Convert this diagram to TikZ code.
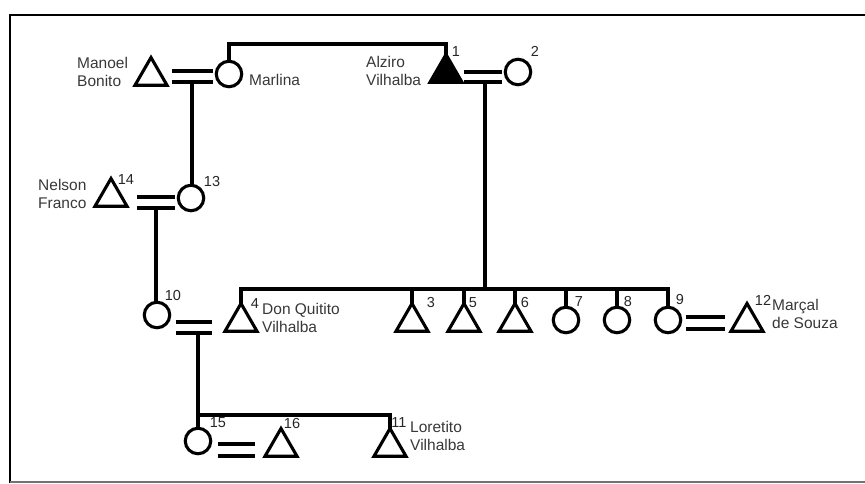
\documentclass[tikz,border=0pt]{standalone}
\usepackage{fontspec}
\setmainfont{Liberation Sans}
\usetikzlibrary{shapes.geometric,calc}
\begin{document}
\begin{tikzpicture}[x=1pt,y=-1pt,
  male/.style={regular polygon, regular polygon sides=3, draw, line width=3.1pt, minimum size=37pt, inner sep=0pt, outer sep=0pt},
  female/.style={circle, draw, line width=3.1pt, minimum size=25.5pt, inner sep=0pt, outer sep=0pt},
  num/.style={font=\fontsize{14.5}{16}\selectfont, inner sep=0pt, text=black!85},
  pname/.style={font=\fontsize{15.5}{18.5}\selectfont, align=left, inner sep=0pt, text=black!78},
  link/.style={line width=3.1pt},
  frame/.style={line width=2.6pt},
]
\useasboundingbox (0,0) rectangle (865,483);
% frame
\draw[frame] (865,15) -- (10,15) -- (10,483);
\draw[line width=1.2pt, black!55] (10,482) -- (865,482);

% persons
\node[male] (manoel) at (151,76) {};
\node[female] (marlina) at (229,74) {};
\node[male, fill=black] (alziro) at (446,73) {};
\node[female] (n2) at (518,72) {};
\node[male] (nelson) at (111,197) {};
\node[female] (n13) at (191,198) {};
\node[female] (n10) at (157,315) {};
\node[male] (n4) at (241,322) {};
\node[male] (n3) at (412,322) {};
\node[male] (n5) at (464,322) {};
\node[male] (n6) at (515,322) {};
\node[female] (n7) at (566,320) {};
\node[female] (n8) at (617,320) {};
\node[female] (n9) at (668,320) {};
\node[male] (n12) at (747,322) {};
\node[female] (n15) at (198,441) {};
\node[male] (n16) at (281,447) {};
\node[male] (n11) at (390,447) {};

% helper coordinates
\coordinate (top) at (229,44);
\coordinate (u1) at (192,82);
\coordinate (u2) at (485,82);
\coordinate (sib) at (485,289);
\coordinate (u3) at (156,208);
\coordinate (u4) at (198,333);
\coordinate (kid) at (198,415);

% Marlina to Alziro
\draw[link] (marlina.north) -- (top) -| (alziro.north);

% marriages
\draw[link] ($(manoel.center)+(21,-5)$) -- ($(marlina.center)+(-16,-3)$);
\draw[link] ($(manoel.center)+(21,6)$) -- ($(marlina.center)+(-16,8)$);
\draw[link] ($(alziro.center)+(18,-1)$) -- ($(n2.center)+(-16,0)$);
\draw[link] ($(alziro.center)+(18,9)$) -- ($(n2.center)+(-16,10)$);
\draw[link] ($(nelson.center)+(26,0)$) -- ($(n13.center)+(-16,-1)$);
\draw[link] ($(nelson.center)+(26,11)$) -- ($(n13.center)+(-16,10)$);
\draw[link] ($(n10.center)+(19,7)$) -- ($(n4.center)+(-29,0)$);
\draw[link] ($(n10.center)+(19,18)$) -- ($(n4.center)+(-29,11)$);
\draw[link] ($(n9.center)+(18,-3)$) -- ($(n12.center)+(-22,-5)$);
\draw[link] ($(n9.center)+(18,9)$) -- ($(n12.center)+(-22,7)$);
\draw[link] ($(n15.center)+(20,3)$) -- ($(n16.center)+(-26,-3)$);
\draw[link] ($(n15.center)+(20,15)$) -- ($(n16.center)+(-26,9)$);

% descents
\draw[link] (u1) -- (u1 |- n13.north);
\draw[link] (u2) -- (sib);
\draw[link] (n4.north) -- (n4.north |- sib) -- (n9.north |- sib) -- (n9.north);
\foreach \c in {n3,n5,n6,n7,n8} \draw[link] (\c.north |- sib) -- (\c.north);
\draw[link] (u3) -- (u3 |- n10.north);
\draw[link] (u4) -- (n15.north);
\draw[link] (kid) -| (n11.north);

% numbers
\node[num] (l1) at (456,52) {1};
\node[num] (l2) at (535,51) {2};
\node[num] (l14) at (126,180) {14};
\node[num] (l13) at (212,182) {13};
\node[num] (l10) at (173,296) {10};
\node[num] (l4) at (255,304) {4};
\node[num] (l3) at (431,303) {3};
\node[num] (l5) at (473,303) {5};
\node[num] (l6) at (525,303) {6};
\node[num] (l7) at (579,302) {7};
\node[num] (l8) at (628,302) {8};
\node[num] (l9) at (680,300) {9};
\node[num] (l12) at (763,300) {12};
\node[num] (l15) at (218,423) {15};
\node[num] (l16) at (292,423) {16};
\node[num] (l11) at (399,423) {11};

% names
\node[pname, anchor=west] (tmanoel) at (77,72) {Manoel\\Bonito};
\node[pname, anchor=west] (tmarlina) at (249,80) {Marlina};
\node[pname, anchor=west] (talziro) at (366,71) {Alziro\\Vilhalba};
\node[pname, anchor=west] (tnelson) at (38,194) {Nelson\\Franco};
\node[pname, anchor=west] (tdon) at (262,318) {Don Quitito\\Vilhalba};
\node[pname, anchor=west] (tmarcal) at (772,314) {Marçal\\de Souza};
\node[pname, anchor=west] (tloretito) at (410,436) {Loretito\\Vilhalba};
\end{tikzpicture}
\end{document}
